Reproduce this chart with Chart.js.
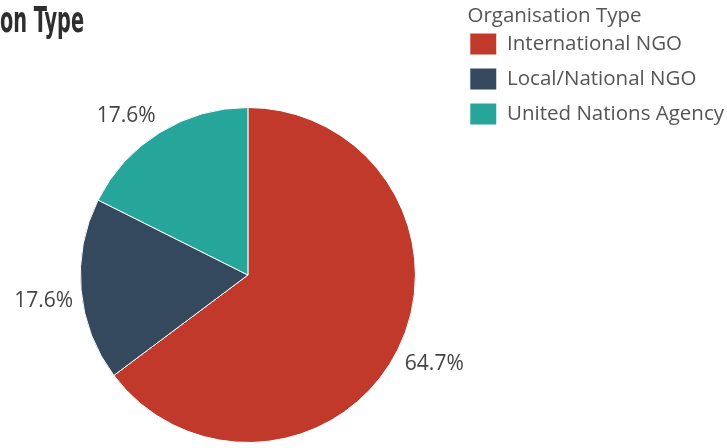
<!DOCTYPE html>
<html>
<head>
<meta charset="utf-8">
<script src="https://cdn.jsdelivr.net/npm/chart.js@4"></script>
<style>
	html, body { margin: 0; padding: 0; background: #fff; overflow: hidden; }
	#wrap { width: 727px; height: 448px; }
</style>
</head>
<body>
<div id="wrap"><canvas id="orgChart" width="727" height="448"></canvas></div>
<script>
// data
const labels = ["International NGO", "Local/National NGO", "United Nations Agency"];
const shares = [64.7, 17.6, 17.6];
const colors = ["#c0392b", "#34495e", "#26a69a"];
const headingText = "Organisation Type";

// percentage labels outside each slice, corner of the text box touching the ray
const sliceLabels = {
	id: "sliceLabels",
	afterDatasetsDraw(chart) {
		const ctx = chart.ctx;
		const meta = chart.getDatasetMeta(0);
		ctx.save();
		ctx.font = '21px "Open Sans"';
		ctx.fillStyle = "#444";
		ctx.textAlign = "center";
		ctx.textBaseline = "middle";
		meta.data.forEach((arc, i) => {
			const p = arc.getProps(["x", "y", "startAngle", "endAngle", "outerRadius"], true);
			const mid = (p.startAngle + p.endAngle) / 2;
			const txt = shares[i].toFixed(1) + "%";
			const w = ctx.measureText(txt).width;
			const r = p.outerRadius + 8;
			const cx = p.x + Math.cos(mid) * r + Math.sign(Math.cos(mid)) * w / 2;
			const cy = p.y + Math.sin(mid) * r + Math.sign(Math.sin(mid)) * 10;
			ctx.fillText(txt, cx, cy);
		});
		ctx.restore();
	},
};

// page heading, cut off by the left edge like in the screenshot
const heading = {
	id: "heading",
	afterDraw(chart) {
		const ctx = chart.ctx;
		ctx.save();
		ctx.font = 'bold 35px "Liberation Sans Narrow", "DejaVu Sans Condensed", sans-serif';
		ctx.fillStyle = "#2e2e2e";
		ctx.textAlign = "right";
		ctx.textBaseline = "alphabetic";
		const sx = 84 / ctx.measureText(headingText.slice(-7)).width;
		ctx.scale(sx, 1);
		ctx.fillText(headingText, 84 / sx, 32);
		ctx.restore();
	},
};

const ctx = document.getElementById("orgChart").getContext("2d");
const orgChart = new Chart(ctx, {
	type: "pie",
	data: {
		labels: labels,
		datasets: [
			{
				data: shares,
				backgroundColor: colors,
				borderColor: "#fff",
				borderWidth: 1,
				hoverOffset: 0,
			},
		],
	},
	options: {
		responsive: false,
		animation: false,
		layout: {
			padding: { left: 39, right: -7, top: 0, bottom: 5 },
		},
		plugins: {
			// empty title only reserves the space above the pie
			title: {
				display: true,
				text: "",
				fullSize: false,
				font: { size: 10, lineHeight: 1 },
				padding: { top: 97, bottom: 0 },
			},
			legend: {
				position: "right",
				align: "start",
				title: {
					display: true,
					text: "  Organisation Type",
					position: "start",
					color: "#555",
					font: { family: "Open Sans", size: 20.5, lineHeight: 1 },
					padding: { top: 6, bottom: -6.5 },
				},
				labels: {
					boxWidth: 27,
					boxHeight: 22,
					padding: 13,
					color: "#555",
					font: { family: "Open Sans", size: 20.5 },
				},
			},
			tooltip: { enabled: false },
		},
	},
	plugins: [sliceLabels, heading],
});
</script>
</body>
</html>
